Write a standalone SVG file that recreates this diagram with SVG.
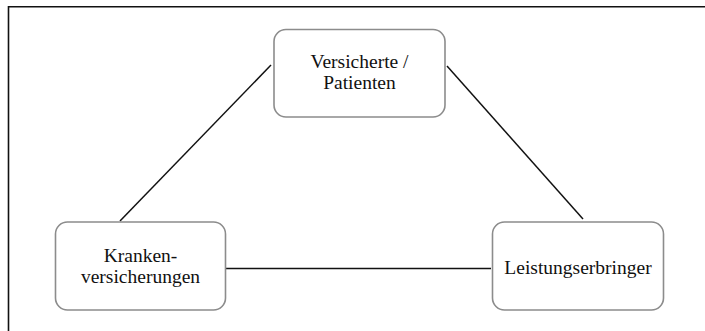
<svg xmlns="http://www.w3.org/2000/svg" width="705" height="331" viewBox="0 0 705 331">
<style>
.node rect{fill:#fff;stroke:#8c8c8c;stroke-width:1.6}
.node text{font-size:19.5px;fill:#111;text-anchor:middle}
.edges line{stroke:#111;stroke-width:1.5}
</style>
<rect x="0" y="0" width="705" height="331" fill="#fff"/>
<path d="M8.5 331 V6.7 H705" fill="none" stroke="#111" stroke-width="1.6"/>
<g class="edges" id="connectors">
<line x1="271" y1="65" x2="120" y2="221"/>
<line x1="447" y1="66" x2="583" y2="219"/>
<line x1="226" y1="268.5" x2="491" y2="268.5"/>
</g>
<g font-family="Liberation Serif, DejaVu Serif, serif">
<g class="node" id="versicherte">
<rect x="274" y="29.5" width="171" height="87.5" rx="12"/>
<text x="359.5" y="67.5">Versicherte /</text>
<text x="359.5" y="88.5">Patienten</text>
</g>
<g class="node" id="krankenversicherungen">
<rect x="55.5" y="222" width="170" height="88" rx="12"/>
<text x="140.5" y="262">Kranken-</text>
<text x="140.5" y="283">versicherungen</text>
</g>
<g class="node" id="leistungserbringer">
<rect x="492.5" y="222" width="171" height="88" rx="12"/>
<text x="578" y="273.5">Leistungserbringer</text>
</g>
</g>
</svg>
